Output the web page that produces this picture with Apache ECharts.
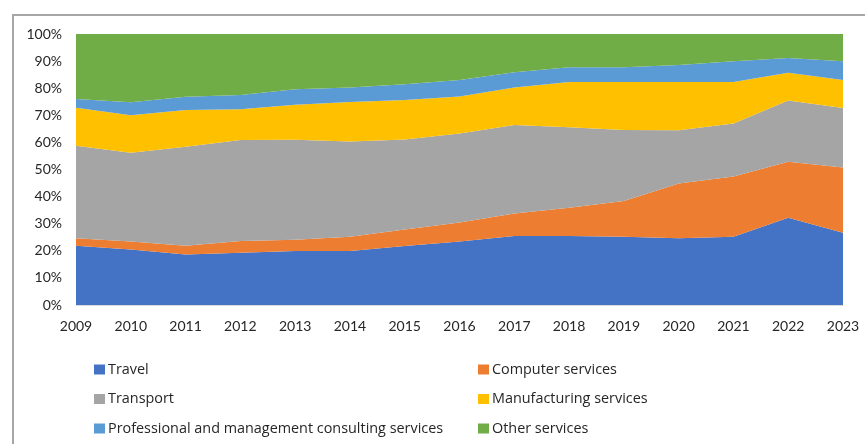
<!DOCTYPE html>
<html>
<head>
<meta charset="utf-8">
<script src="https://cdn.jsdelivr.net/npm/echarts@6/dist/echarts.min.js"></script>
<style>
  html, body { margin: 0; padding: 0; background: #fff; }
  #frame { position: absolute; left: 12px; top: 14px; width: 853px; height: 430px;
           border-left: 2px solid #a6a6a6; border-top: 2px solid #a6a6a6; box-sizing: border-box; }
  #chart { position: absolute; left: 0; top: 0; width: 865px; height: 444px; }
</style>
</head>
<body>
<div id="frame"></div>
<div id="chart"></div>
<script>
// Share of services by category, per year (percent)
const years = ['2009','2010','2011','2012','2013','2014','2015','2016','2017','2018','2019','2020','2021','2022','2023'];
const travel        = [21.9, 20.5, 18.6, 19.3, 19.9, 19.9, 21.8, 23.4, 25.5, 25.5, 25.2, 24.6, 25.2, 32.2, 26.7];
const computer      = [2.7, 2.9, 3.3, 4.3, 4.2, 5.3, 6.1, 7.0, 8.3, 10.4, 13.2, 20.2, 22.2, 20.7, 24.0];
const transport     = [34.2, 32.8, 36.5, 37.3, 36.9, 35.1, 33.2, 32.9, 32.6, 29.7, 26.2, 19.7, 19.6, 22.6, 22.0];
const manufacturing = [14.0, 13.8, 13.6, 11.3, 12.9, 14.6, 14.5, 13.6, 13.9, 16.7, 17.7, 17.8, 15.3, 10.2, 10.3];
const professional  = [3.2, 4.8, 4.8, 5.3, 5.7, 5.4, 5.9, 6.1, 5.6, 5.4, 5.4, 6.3, 7.6, 5.4, 6.9];
const other         = [24.0, 25.2, 23.2, 22.5, 20.4, 19.7, 18.5, 17.0, 14.1, 12.3, 12.3, 11.4, 10.1, 8.9, 10.1];

const seriesDefs = [
  { name: 'Travel', data: travel, color: '#4472C4' },
  { name: 'Computer services', data: computer, color: '#ED7D31' },
  { name: 'Transport', data: transport, color: '#A5A5A5' },
  { name: 'Manufacturing services', data: manufacturing, color: '#FFC000' },
  { name: 'Professional and management consulting services', data: professional, color: '#5B9BD5' },
  { name: 'Other services', data: other, color: '#70AD47' }
];

const axisFont = 'Lato, "Open Sans", sans-serif';
const legendFont = '"Open Sans", Lato, sans-serif';
const textColor = '#262626';

const legendBase = {
  orient: 'vertical',
  top: 356.5,
  itemWidth: 11,
  itemHeight: 10,
  itemGap: 13.5,
  icon: 'rect',
  textStyle: { fontFamily: legendFont, fontSize: 14.4, lineHeight: 16, color: textColor, padding: [0, 0, 0, -2] }
};

const chart = echarts.init(document.getElementById('chart'), null, { renderer: 'canvas' });
chart.setOption({
  animation: false,
  color: seriesDefs.map(s => s.color),
  grid: { left: 76, right: 22, top: 34, bottom: 139 },
  legend: [
    Object.assign({}, legendBase, { left: 89, data: ['Travel', 'Transport', 'Professional and management consulting services'] }),
    Object.assign({}, legendBase, { left: 473, data: ['Computer services', 'Manufacturing services', 'Other services'] })
  ],
  xAxis: {
    type: 'category',
    data: years,
    boundaryGap: false,
    axisLine: { show: true, lineStyle: { color: '#d9d9d9', width: 1 } },
    axisTick: { show: false },
    axisLabel: { fontFamily: axisFont, fontSize: 14, color: textColor, margin: 14 }
  },
  yAxis: {
    type: 'value',
    min: 0,
    max: 100,
    interval: 10,
    axisLine: { show: false },
    axisTick: { show: false },
    splitLine: { show: false },
    axisLabel: { formatter: '{value}%', fontFamily: axisFont, fontSize: 14, color: textColor, margin: 14 }
  },
  series: seriesDefs.map(s => ({
    name: s.name,
    type: 'line',
    stack: 'total',
    data: s.data,
    symbol: 'none',
    lineStyle: { width: 0 },
    areaStyle: { color: s.color, opacity: 1 },
    itemStyle: { color: s.color }
  }))
});
</script>
</body>
</html>
